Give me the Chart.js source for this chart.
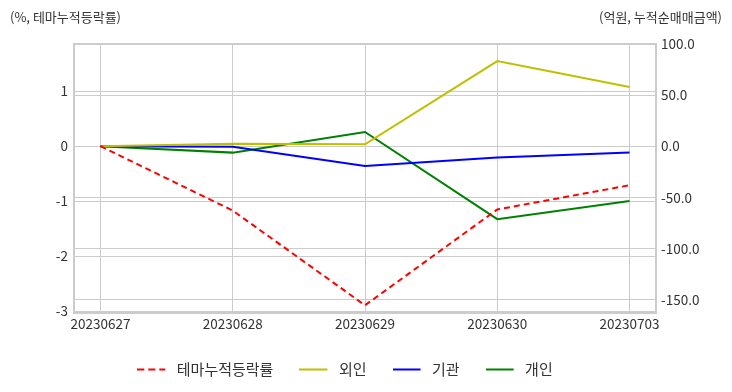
<!DOCTYPE html>
<html><head><meta charset="utf-8">
<script src="https://cdn.jsdelivr.net/npm/chart.js@4"></script>
<style>
html,body{margin:0;padding:0;background:#fff;}
#wrap{position:relative;width:732px;height:392px;}
.ttl{position:absolute;top:7px;font:13px "Noto Sans CJK KR","Noto Sans",sans-serif;color:#333;white-space:nowrap;}
</style></head>
<body>
<div id="wrap">
<canvas id="c" width="732" height="392"></canvas>
<div class="ttl" style="left:10px">(%, 테마누적등락률)</div>
<div class="ttl" style="right:10px">(억원, 누적순매매금액)</div>
</div>
<script>
const categories = ['20230627','20230628','20230629','20230630','20230703'];
const themeRate = [0, -1.17, -2.89, -1.15, -0.71];
const foreign = [0, 2.5, 2, 83.3, 58];
const institution = [0, -0.5, -19.2, -11, -6.2];
const individual = [0, -6.2, 14, -71.3, -53.4];
const leftTicks = [-3, -2, -1, 0, 1];
const rightTicks = [-150, -100, -50, 0, 50, 100];

const pts = arr => arr.map((v, i) => ({x: i, y: v}));
const FONT = '"Noto Sans CJK KR","Noto Sans",sans-serif';
const PAD_BOTTOM = 5;
const LEGEND_SHIFT = -21;

// legend sample: a 28px line inside a 32px-wide image
function legendSample(color, dash) {
  const cv = document.createElement('canvas');
  cv.width = 32; cv.height = 4;
  const g = cv.getContext('2d');
  g.strokeStyle = color; g.lineWidth = 2;
  g.setLineDash(dash || []);
  g.beginPath(); g.moveTo(0, 2); g.lineTo(28, 2); g.stroke();
  return cv;
}

const boxPlugin = {
  id: 'box',
  afterLayout(chart) {
    if (chart.legend) { chart.legend.left += LEGEND_SHIFT; chart.legend.right += LEGEND_SHIFT; }
  },
  afterDatasetsDraw(chart) {
    const a = chart.chartArea, ctx = chart.ctx;
    ctx.save();
    ctx.strokeStyle = '#cccccc';
    ctx.lineWidth = 2;
    ctx.strokeRect(a.left, a.top, a.right - a.left, a.bottom - a.top);
    ctx.restore();
  }
};

new Chart(document.getElementById('c'), {
  type: 'line',
  data: {
    datasets: [
      {label: '테마누적등락률', data: pts(themeRate), yAxisID: 'y', borderColor: '#ff0000', borderDash: [6, 4], borderWidth: 2, pointRadius: 0, tension: 0},
      {label: '외인', data: pts(foreign), yAxisID: 'y1', borderColor: '#bfbf00', borderWidth: 2, pointRadius: 0, tension: 0},
      {label: '기관', data: pts(institution), yAxisID: 'y1', borderColor: '#0000ff', borderWidth: 2, pointRadius: 0, tension: 0},
      {label: '개인', data: pts(individual), yAxisID: 'y1', borderColor: '#008000', borderWidth: 2, pointRadius: 0, tension: 0}
    ]
  },
  options: {
    responsive: false,
    animation: false,
    layout: {padding: {top: 44, left: 0, right: 0, bottom: PAD_BOTTOM}},
    plugins: {
      tooltip: {enabled: false},
      legend: {
        position: 'bottom',
        labels: {
          usePointStyle: true,
          pointStyleWidth: 32,
          boxHeight: 14,
          padding: 26,
          color: '#333',
          font: {family: FONT, size: 15},
          generateLabels(chart) {
            return chart.data.datasets.map((ds, i) => ({
              text: ds.label, strokeStyle: ds.borderColor, fillStyle: ds.borderColor,
              lineWidth: 0, pointStyle: legendSample(ds.borderColor, ds.borderDash ? [7, 4] : []),
              datasetIndex: i, hidden: false, fontColor: '#333'
            }));
          }
        }
      }
    },
    scales: {
      x: {
        type: 'linear', min: -0.2, max: 4.2,
        afterBuildTicks(s) { s.ticks = categories.map((c, i) => ({value: i})); },
        afterFit(s) { s.height = s.chart.height - 313 - s.chart.legend.height - PAD_BOTTOM; },
        ticks: {callback: (v) => categories[v], color: '#333', font: {family: FONT, size: 13.5}, padding: 3, maxRotation: 0, autoSkip: false},
        grid: {color: '#cccccc', lineWidth: 1, drawTicks: false},
        border: {display: false}
      },
      y: {
        position: 'left', min: -3.03, max: 1.855,
        afterBuildTicks(s) { s.ticks = leftTicks.map(v => ({value: v})); },
        afterFit(s) { s.width = 74; },
        ticks: {color: '#333', font: {family: FONT, size: 13.5}, padding: 6, callback: v => String(v)},
        grid: {color: '#cccccc', lineWidth: 1, drawTicks: false},
        border: {display: false}
      },
      y1: {
        position: 'right', min: -163, max: 100,
        afterBuildTicks(s) { s.ticks = rightTicks.map(v => ({value: v})); },
        afterFit(s) { s.width = 76; },
        ticks: {color: '#333', font: {family: FONT, size: 13.5}, padding: 5, callback: v => v.toFixed(1)},
        grid: {color: '#cccccc', lineWidth: 1, drawTicks: false},
        border: {display: false}
      }
    }
  },
  plugins: [boxPlugin]
});
</script>
</body></html>
